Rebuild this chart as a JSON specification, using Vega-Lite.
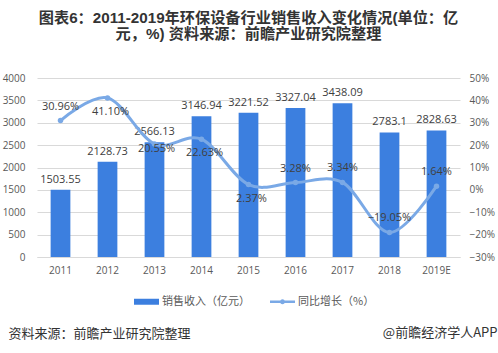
{
  "$schema": "https://vega.github.io/schema/vega-lite/v6.json",
  "width": 423,
  "height": 179,
  "autosize": {"type": "none"},
  "padding": {"left": 37, "top": 78, "right": 38, "bottom": 96},
  "background": "white",
  "title": {
    "text": ["图表6：2011-2019年环保设备行业销售收入变化情况(单位：亿", "元，%) 资料来源：前瞻产业研究院整理"],
    "anchor": "middle",
    "frame": "group",
    "fontSize": 15.2,
    "fontWeight": "bold",
    "font": "Liberation Sans, Noto Sans CJK SC",
    "color": "#333333",
    "lineHeight": 16,
    "offset": 31
  },
  "config": {"view": {"stroke": null}, "font": "Open Sans, Noto Sans CJK SC"},
  "data": {
    "values": [
      {"year": "2011", "revenue": 1503.55, "growth": 0.3096},
      {"year": "2012", "revenue": 2128.73, "growth": 0.4110},
      {"year": "2013", "revenue": 2566.13, "growth": 0.2055},
      {"year": "2014", "revenue": 3146.94, "growth": 0.2263},
      {"year": "2015", "revenue": 3221.52, "growth": 0.0237},
      {"year": "2016", "revenue": 3327.04, "growth": 0.0328},
      {"year": "2017", "revenue": 3438.09, "growth": 0.0334},
      {"year": "2018", "revenue": 2783.1, "growth": -0.1905},
      {"year": "2019E", "revenue": 2828.63, "growth": 0.0164}
    ]
  },
  "encoding": {
    "x": {
      "field": "year",
      "type": "nominal",
      "sort": null,
      "scale": {"paddingInner": 0.58, "paddingOuter": 0.29},
      "axis": {
        "title": "资料来源：前瞻产业研究院整理",
        "titleX": -29,
        "titleY": 76,
        "titleAlign": "left",
        "titleBaseline": "middle",
        "titleFontSize": 13,
        "titleFontWeight": "normal",
        "titleColor": "#333333",
        "titleFont": "Noto Sans CJK SC",
        "labelAngle": 0,
        "labelFontSize": 10,
        "labelColor": "#595959",
        "labelPadding": 8,
        "ticks": false,
        "domainColor": "#d9d9d9",
        "grid": false
      }
    }
  },
  "layer": [
    {
      "encoding": {
        "y": {
          "field": "revenue",
          "type": "quantitative",
          "scale": {"domain": [0, 4000], "nice": false},
          "axis": {
            "orient": "left",
            "values": [0, 500, 1000, 1500, 2000, 2500, 3000, 3500, 4000],
            "format": "d",
            "title": null,
            "grid": true,
            "gridColor": "#d9d9d9",
            "domain": false,
            "ticks": false,
            "labelPadding": 12,
            "labelFontSize": 10,
            "labelColor": "#595959"
          }
        }
      },
      "layer": [
        {
          "mark": {"type": "bar"},
          "encoding": {
            "color": {
              "datum": "销售收入（亿元）",
              "type": "nominal",
              "scale": {"domain": ["销售收入（亿元）", "同比增长（%）"], "range": ["#3c7fdf", "#7aa9e6"]},
              "legend": {
                "orient": "none",
                "legendX": 97,
                "legendY": 211,
                "direction": "horizontal",
                "title": null,
                "labelFontSize": 11,
                "labelColor": "#595959",
                "labelFont": "Noto Sans CJK SC",
                "symbolSize": 625,
                "columnPadding": 20,
                "labelOffset": 3,
                "encode": {
                  "symbols": {
                    "update": {
                      "shape": [
                        {"test": "datum.value === '销售收入（亿元）'", "value": "M-1,-0.24H1V0.24H-1Z"},
                        {"value": "M-1,-0.1H1V0.1H-1Z M0.2,0A0.2,0.2,0,1,1,-0.2,0A0.2,0.2,0,1,1,0.2,0Z"}
                      ],
                      "fill": {"scale": "color", "field": "value"},
                      "stroke": {"value": "transparent"},
                      "strokeWidth": {"value": 0},
                      "opacity": {"value": 1}
                    }
                  }
                }
              }
            }
          }
        },
        {
          "mark": {"type": "text", "baseline": "bottom", "dy": -5, "fontSize": 11, "color": "#404040"},
          "encoding": {"text": {"field": "revenue", "type": "quantitative"}}
        }
      ]
    },
    {
      "encoding": {
        "y": {
          "field": "growth",
          "type": "quantitative",
          "scale": {"domain": [-0.3, 0.5], "nice": false},
          "axis": {
            "orient": "right",
            "values": [-0.3, -0.2, -0.1, 0, 0.1, 0.2, 0.3, 0.4, 0.5],
            "format": ".0%",
            "title": "@前瞻经济学人APP",
            "titleAngle": 0,
            "titleX": 37,
            "titleY": 254,
            "titleAlign": "right",
            "titleBaseline": "middle",
            "titleFontSize": 13,
            "titleFontWeight": "normal",
            "titleColor": "#333333",
            "titleFont": "Noto Sans CJK SC",
            "grid": false,
            "domain": false,
            "ticks": false,
            "labelPadding": 9,
            "labelAlign": "left",
            "labelFontSize": 10,
            "labelColor": "#595959"
          }
        }
      },
      "layer": [
        {
          "mark": {"type": "line", "interpolate": "cardinal", "strokeWidth": 3, "point": {"filled": true, "size": 30}},
          "encoding": {"color": {"datum": "同比增长（%）", "type": "nominal"}}
        },
        {
          "transform": [{"filter": "indexof(['2011','2016','2017','2018','2019E'], datum.year) >= 0"}],
          "mark": {"type": "text", "dy": -14, "fontSize": 11, "color": "#404040"},
          "encoding": {"text": {"field": "growth", "type": "quantitative", "format": ".2%"}}
        },
        {
          "transform": [{"filter": "indexof(['2012','2014','2015'], datum.year) >= 0"}],
          "mark": {"type": "text", "dy": 14, "dx": 3, "fontSize": 11, "color": "#404040"},
          "encoding": {"text": {"field": "growth", "type": "quantitative", "format": ".2%"}}
        },
        {
          "transform": [{"filter": "datum.year === '2013'"}],
          "mark": {"type": "text", "dy": 5, "dx": 2, "fontSize": 11, "color": "#404040"},
          "encoding": {"text": {"field": "growth", "type": "quantitative", "format": ".2%"}}
        }
      ]
    }
  ],
  "resolve": {"scale": {"y": "independent"}}
}
